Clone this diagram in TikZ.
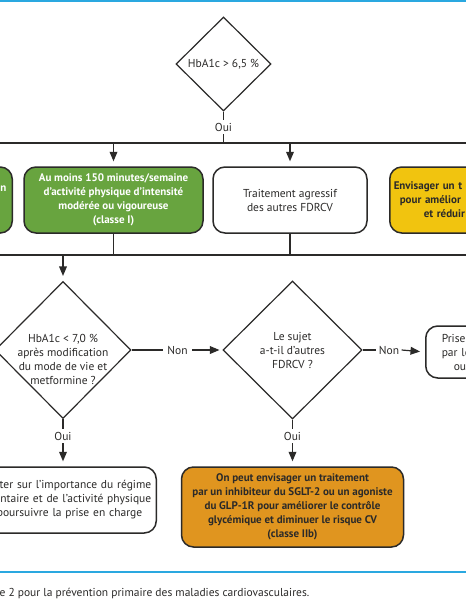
\documentclass[tikz,border=0pt]{standalone}
\usepackage{fontspec}
\setmainfont{PT Sans}
\usepackage{tikz}
\usetikzlibrary{arrows,shapes.geometric,positioning}
\definecolor{lineblue}{HTML}{2AA8E0}
\definecolor{inkgray}{HTML}{2B2A29}
\definecolor{boxgreen}{HTML}{68A43F}
\definecolor{boxyellow}{HTML}{F1C40F}
\definecolor{boxorange}{HTML}{E0951F}
\newcommand{\boldtext}{\fontsize{11}{14}\selectfont\bfseries}

\begin{document}
\fontsize{11.5}{14}\selectfont
\begin{tikzpicture}[>=triangle 45,x=1pt,y=1pt,line width=1.2pt,
                    draw=inkgray,text=inkgray]
  \tikzstyle{decision}=[diamond,draw=inkgray,aspect=1,inner sep=-8pt,align=center]
  \tikzstyle{box}=[draw=inkgray,rounded corners=12pt,line width=1.5pt,
                   minimum height=66pt,align=center]
  \tikzstyle{tag}=[inner sep=2.5pt]
  \tikzstyle{arr}=[->,shorten >=5pt]

  \useasboundingbox (0,0) rectangle (466,-600);
  \clip (0,0) rectangle (466,-600);
  \fill[white] (0,0) rectangle (466,-600);

  % frame lines
  \draw[lineblue,line width=2pt] (0,-1) -- (466,-1);
  \draw[lineblue,line width=1.5pt] (0,-572) -- (466,-572);

  % first test
  \node[decision,minimum width=95pt,minimum height=94pt] (d1) at (223.5,-64) {HbA1c > 6,5 \%};
  \node[tag] (oui1) at (223.5,-127) {Oui};
  \coordinate (bus1w) at (0,-143);
  \coordinate (bus1e) at (466,-143);

  % first row of boxes
  \node[box,fill=boxgreen,minimum width=160pt,anchor=east] (g1) at (13,-200) {};
  \node[text=white,font=\boldtext,inner sep=0pt,left=6pt of g1.east,yshift=11pt] (g1t) {n};
  \node[box,fill=boxgreen,text=white,font=\boldtext,minimum width=179pt] (g2) at (113.5,-200)
       {Au moins 150 minutes/semaine\\d’activité physique d’intensité\\modérée ou vigoureuse\\(classe I)};
  \node[box,fill=white,minimum width=154pt] (w1) at (290,-200) {Traitement agressif\\des autres FDRCV};
  \node[box,fill=boxyellow,font=\boldtext,anchor=west,text width=170pt,align=left,inner xsep=4pt] (y1) at (389,-200)
       {Envisager un t\\\hspace*{6pt}pour amélior\\\hspace*{30pt}et réduir};
  \coordinate (bus2w) at (0,-255);
  \coordinate (bus2e) at (466,-255);

  % second row
  \node[decision,minimum width=136pt,minimum height=137pt] (d2) at (63,-350) {};
  \node[align=center,yshift=-9pt] (d2t) at (d2.center)
       {HbA1c < 7,0 \%\\après modification\\du mode de vie et\\metformine~?};
  \node[tag,inner xsep=4pt] (non1) at (177.5,-350) {Non};
  \node[decision,minimum width=139pt,minimum height=138pt] (d3) at (292.5,-350)
       {Le sujet\\a-t-il d’autres\\FDRCV~?};
  \node[tag,inner xsep=2pt] (non2) at (389,-350) {Non};
  \node[box,fill=white,anchor=west,minimum height=52pt,text width=50pt,align=left,inner xsep=16pt] (r1) at (425,-352)
       {Prise\\par le\\\hspace*{12pt}ou};

  % third row
  \node[tag] (oui2) at (63,-436) {Oui};
  \node[tag] (oui3) at (292.5,-436) {Oui};
  \node[box,fill=white,anchor=east,text width=160pt,align=right,inner xsep=5pt] (bl) at (157,-500)
       {ter sur l’importance du régime\\entaire et de l’activité physique\\poursuivre la prise en charge\hspace*{9pt}};
  \node[box,fill=boxorange,font=\boldtext,minimum width=222pt,minimum height=80pt] (o1) at (292.5,-507)
       {On peut envisager un traitement\\par un inhibiteur du SGLT-2 ou un agoniste\\du GLP-1R pour améliorer le contrôle\\glycémique et diminuer le risque CV\\(classe IIb)};

  \node[anchor=base west,inner sep=0pt] (cap) at (-1,-596)
       {e 2 pour la prévention primaire des maladies cardiovasculaires.};

  % connectors
  \draw (d1.south) -- (oui1.north);
  \draw (oui1.south) -- (oui1 |- bus1w);
  \draw (bus1w) -- (bus1e);
  \draw[arr] (g2.north |- bus1w) -- (g2.north);
  \draw[arr] (w1.north |- bus1w) -- (w1.north);
  \draw (g2.south) -- (g2.south |- bus2w);
  \draw (w1.south) -- (w1.south |- bus2w);
  \draw (bus2w) -- (bus2e);
  \draw[arr] (d2.north |- bus2w) -- (d2.north);
  \draw (d2.east) -- (non1.west);
  \draw[arr,shorten >=3pt] (non1.east) -- (d3.west);
  \draw (d3.east) -- (non2.west);
  \draw[arr] (non2.east) -- (r1.west);
  \draw (d2.south) -- (oui2.north);
  \draw[arr] (oui2.south) -- (oui2 |- bl.north);
  \draw (d3.south) -- (oui3.north);
  \draw[arr] (oui3.south) -- (o1.north);
\end{tikzpicture}
\end{document}
